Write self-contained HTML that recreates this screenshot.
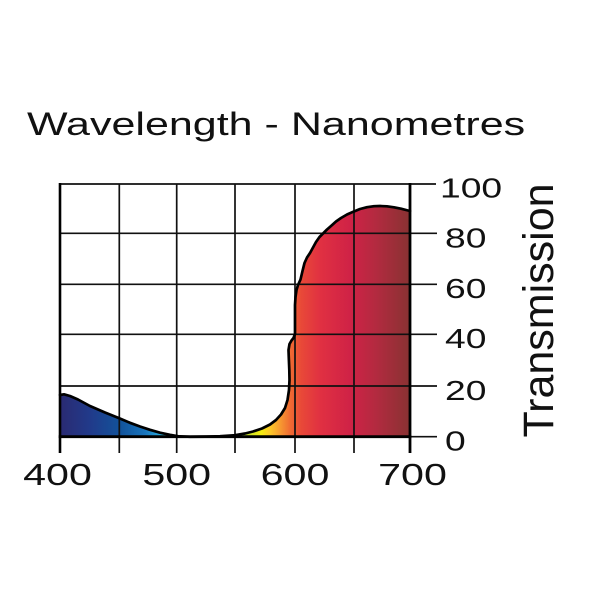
<!DOCTYPE html>
<html>
<head>
<meta charset="utf-8">
<style>
html,body{margin:0;padding:0;background:#fff;}
svg{display:block;}
text{font-family:"Liberation Sans",Arial,sans-serif;fill:#111;}
</style>
</head>
<body>
<svg width="600" height="600" viewBox="0 0 600 600" xmlns="http://www.w3.org/2000/svg">
<defs>
<linearGradient id="spec" gradientUnits="userSpaceOnUse" x1="60" y1="0" x2="410" y2="0">
<stop offset="0" stop-color="#2a2a72"/>
<stop offset="0.086" stop-color="#213a8a"/>
<stop offset="0.171" stop-color="#12529a"/>
<stop offset="0.243" stop-color="#1874bc"/>
<stop offset="0.286" stop-color="#26a8dc"/>
<stop offset="0.32" stop-color="#40c4a8"/>
<stop offset="0.37" stop-color="#60c870"/>
<stop offset="0.5" stop-color="#90d040"/>
<stop offset="0.54" stop-color="#c8e028"/>
<stop offset="0.575" stop-color="#f4ec10"/>
<stop offset="0.6" stop-color="#fcc828"/>
<stop offset="0.625" stop-color="#f8a030"/>
<stop offset="0.657" stop-color="#f06c32"/>
<stop offset="0.69" stop-color="#e84838"/>
<stop offset="0.745" stop-color="#e03042"/>
<stop offset="0.83" stop-color="#cf2246"/>
<stop offset="0.9" stop-color="#b42a40"/>
<stop offset="1" stop-color="#883232"/>
</linearGradient>
</defs>

<!-- fill -->
<path fill="url(#spec)" d="M60,436.7 L60,395 64,394.3 70,396 78,399.5 90,406 105,412.5 119.3,418.3 130,422.8 140,426.5 150,429.8 160,432.7 170,434.8 178,436.2 190,436.8 206,436.6 220,436.2 235,435.2 245,433.5 253,431.5 262,428.5 270,424.5 276,420 281,414.5 285,408 287.5,400 289,390 289.5,380 289.3,370 288.8,358 288.5,350 289.5,344 291.5,340.5 293.5,338 295,334 295,320 295,305 295.5,297 296.5,290 298,285 300.5,279.5 302.5,271 304.5,263 307,257.5 310,253 313,247.5 316,242 319.5,237 323.5,233 327,229.5 331,226 336,221.5 341,218 347,214.5 353.3,211.7 360,209 367,207.2 374,206.2 380,206 387,206.3 394,207.3 401,208.7 408,210.5 410,211 410,436.7 Z"/>

<!-- grid -->
<g stroke="#111" stroke-width="1.7" fill="none">
<line x1="119.3" y1="184" x2="119.3" y2="453"/>
<line x1="176.7" y1="184" x2="176.7" y2="453"/>
<line x1="235" y1="184" x2="235" y2="453"/>
<line x1="295" y1="184" x2="295" y2="453"/>
<line x1="354" y1="184" x2="354" y2="453"/>
<line x1="60" y1="184" x2="436" y2="184"/>
<line x1="60" y1="233.3" x2="437" y2="233.3"/>
<line x1="60" y1="284.3" x2="437" y2="284.3"/>
<line x1="60" y1="334.3" x2="437" y2="334.3"/>
<line x1="60" y1="386" x2="437" y2="386"/>
<line x1="410" y1="436.7" x2="437" y2="436.7"/>
</g>

<!-- curve outline -->
<path fill="none" stroke="#000" stroke-width="2.7" stroke-linejoin="round" stroke-linecap="round" d="M60,395 L64,394.3 70,396 78,399.5 90,406 105,412.5 119.3,418.3 130,422.8 140,426.5 150,429.8 160,432.7 170,434.8 178,436.2 190,436.8 206,436.6 220,436.2 235,435.2 245,433.5 253,431.5 262,428.5 270,424.5 276,420 281,414.5 285,408 287.5,400 289,390 289.5,380 289.3,370 288.8,358 288.5,350 289.5,344 291.5,340.5 293.5,338 295,334 295,320 295,305 295.5,297 296.5,290 298,285 300.5,279.5 302.5,271 304.5,263 307,257.5 310,253 313,247.5 316,242 319.5,237 323.5,233 327,229.5 331,226 336,221.5 341,218 347,214.5 353.3,211.7 360,209 367,207.2 374,206.2 380,206 387,206.3 394,207.3 401,208.7 408,210.5 410,211"/>

<!-- axes -->
<g stroke="#000" fill="none">
<line x1="60" y1="183" x2="60" y2="453" stroke-width="2.6"/>
<line x1="410" y1="183" x2="410" y2="453" stroke-width="2.8"/>
<line x1="58.7" y1="436.7" x2="411.4" y2="436.7" stroke-width="2.8"/>
</g>

<!-- title -->
<text transform="translate(27,135) scale(1.324,1)" font-size="32.5">Wavelength - Nanometres</text>

<!-- x labels -->
<g font-size="31" text-anchor="middle">
<text transform="translate(57.5,485) scale(1.33,1)">400</text>
<text transform="translate(176.7,485) scale(1.33,1)">500</text>
<text transform="translate(295,485) scale(1.33,1)">600</text>
<text transform="translate(412.5,485) scale(1.33,1)">700</text>
</g>

<!-- y labels -->
<g font-size="28">
<text transform="translate(440,197.5) scale(1.33,1)">100</text>
<text transform="translate(445,247.5) scale(1.33,1)">80</text>
<text transform="translate(445,298) scale(1.33,1)">60</text>
<text transform="translate(445,348) scale(1.33,1)">40</text>
<text transform="translate(445,400) scale(1.33,1)">20</text>
<text transform="translate(445,450.5) scale(1.33,1)">0</text>
</g>

<!-- vertical axis title -->
<text transform="translate(553,310.5) rotate(-90)" text-anchor="middle" font-size="43">Transmission</text>
</svg>
</body>
</html>
